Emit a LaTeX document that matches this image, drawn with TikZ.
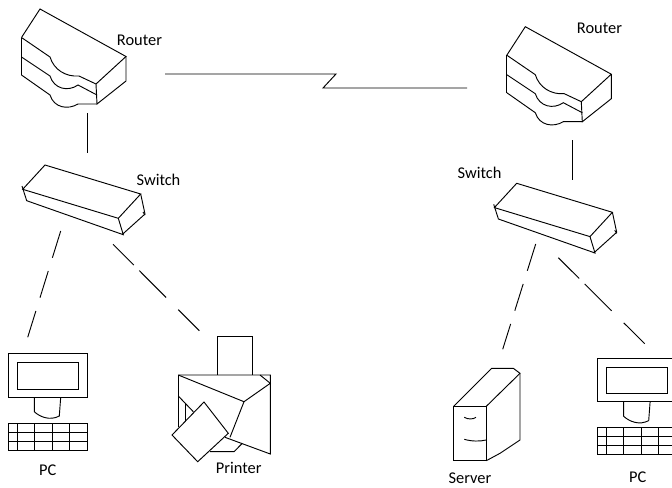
\documentclass[tikz,border=0pt]{standalone}
\usepackage{fontspec}
\setmainfont{Carlito}
\tikzset{
  x=0.75pt,y=-0.75pt,
  shape line/.style={draw=black,line width=0.7pt,line join=miter},
  link/.style={draw=black,line width=0.7pt},
  dashA/.style={draw=black,line width=0.7pt,dash pattern=on 21pt off 10.4pt},
  dashB/.style={draw=black,line width=0.7pt,dash pattern=on 22.1pt off 5.8pt on 28.5pt off 12.9pt on 30pt off 10pt},
  lbl/.style={font=\fontsize{12.3}{14}\selectfont,inner sep=0pt,text=black},
  router/.pic={
    \draw[shape line] (21.5,37.5) -- (40,9) -- (126,56.5) -- (96,84);
    \draw[shape line] (126,56.5) -- (126,81) -- (97,104) -- (96,84);
    \draw[shape line] (21.5,37.5) -- (21.5,75);
    \draw[shape line] (21.5,37.5) -- (50,57) .. controls (54,70) and (66,77) .. (79,76) -- (96,84);
    \draw[shape line] (21.5,57) -- (50,76) .. controls (54,89) and (68,92) .. (78,85) -- (97,95);
    \draw[shape line] (21.5,75) -- (50,95) .. controls (54,108) and (68,110) .. (78,104) -- (97,104);
  },
  switchbox/.pic={
    \draw[shape line] (22.7,189.3) -- (45,165) -- (140.7,194) -- (118.3,218.3) -- cycle;
    \draw[shape line] (22,186) -- (26.7,200.7) -- (123.3,234.7) -- (118.3,218.3);
    \draw[shape line] (140.7,194) -- (145,214) -- (122,234.7);
    \draw[shape line] (143,212) -- (145,215);
  },
  pcset/.pic={
    \draw[shape line] (8.3,353.7) rectangle (87.3,397.3);
    \draw[shape line] (17,362.7) rectangle (78.3,389);
    \draw[shape line] (34.3,397.3) -- (34.3,411.7) .. controls (40,417) and (50,421) .. (59.3,416) -- (60.7,397.3);
    \draw[shape line] (8.3,423.3) rectangle (87.3,450);
    \draw[shape line] (8.3,432.3) -- (87.3,432.3) (8.3,441) -- (87.3,441);
    \draw[shape line] (17,423.3) -- (17,450) (34.3,423.3) -- (34.3,450) (52,423.3) -- (52,450) (69.3,423.3) -- (69.3,450);
  },
}
\begin{document}
\begin{tikzpicture}
\useasboundingbox (0,0) rectangle (672,487);
\clip (0,0) rectangle (672,487);
\fill[white] (0,0) rectangle (672,487);

% devices
\pic at (0,0) {router};
\pic at (485.3,17.7) {router};
\pic at (0,0) {switchbox};
\pic at (471.7,18.3) {switchbox};
\pic at (0,0) {pcset};
\pic at (589.4,4.6) {pcset};

% printer
\draw[shape line] (217.7,375) -- (217.7,336.7) -- (252.7,336.7) -- (252.7,375);
\draw[shape line] (178.3,375) -- (270.3,375) -- (270.3,454) -- (225,437.3);
\draw[shape line] (178.3,375) -- (244,401.7) -- (270.3,383.3) -- (260,375);
\draw[shape line] (244,401.7) -- (230,437.3);
\draw[shape line] (178.3,375) -- (178.3,427.3);
\draw[shape line] (178.3,396) -- (193.3,411.7);
\draw[shape line] (185,402.7) -- (185,425);
\draw[shape line,fill=white] (204,402) -- (228.3,433.3) -- (197.7,461.7) -- (172,435) -- cycle;
\draw[shape line] (210,451.7) -- (234,451.7) -- (242.3,443.3);

% server
\draw[shape line] (453.7,406.3) rectangle (486.3,460.7);
\draw[shape line] (453.7,406.3) -- (491.7,368.3) -- (513.3,368.3) -- (520,373.3) -- (486.3,406.3);
\draw[shape line] (520,373.3) -- (520,440) -- (500,453.3) -- (486.3,460.7);
\draw[shape line] (464.3,417.3) .. controls (468,419.5) and (473,419.5) .. (476,417.3);
\draw[shape line] (464.3,439.3) .. controls (472,441.5) and (480,441.5) .. (486,440);

% labels
\node[lbl] (lr1) at (139.5,40.5) {Router};
\node[lbl] (lr2) at (599.5,28.5) {Router};
\node[lbl] (ls1) at (158.5,180) {Switch};
\node[lbl] (ls2) at (479.5,172.5) {Switch};
\node[lbl] (lp1) at (47.7,470) {PC};
\node[lbl] (lp2) at (637.7,477.5) {PC};
\node[lbl] (lpr) at (238.7,467.7) {Printer};
\node[lbl] (lsv) at (470,478.5) {Server};

% connector ends
\coordinate (r1d) at (87,113);
\coordinate (s1u) at (87,153);
\coordinate (r2d) at (572,140);
\coordinate (s2u) at (572,180);
\coordinate (wanA) at (165,74);
\coordinate (wanB) at (336,74);
\coordinate (wanC) at (323,88);
\coordinate (wanD) at (467,88);
\coordinate (s1a) at (60.7,231);
\coordinate (pc1) at (27.7,337.3);
\coordinate (s1b) at (113,244.3);
\coordinate (prn) at (199.3,330.7);
\coordinate (s2a) at (535.7,244);
\coordinate (srv) at (502.7,349.3);
\coordinate (s2b) at (558.3,257.7);
\coordinate (pc2) at (644.7,343.7);

\draw[link] (r1d) -- (s1u);
\draw[link] (r2d) -- (s2u);
\draw[link] (wanA) -- (wanB) -- (wanC) -- (wanD);
\draw[dashA] (s1a) -- (pc1);
\draw[dashB] (s1b) -- (prn);
\draw[dashA] (s2a) -- (srv);
\draw[dashB] (s2b) -- (pc2);
\end{tikzpicture}
\end{document}
